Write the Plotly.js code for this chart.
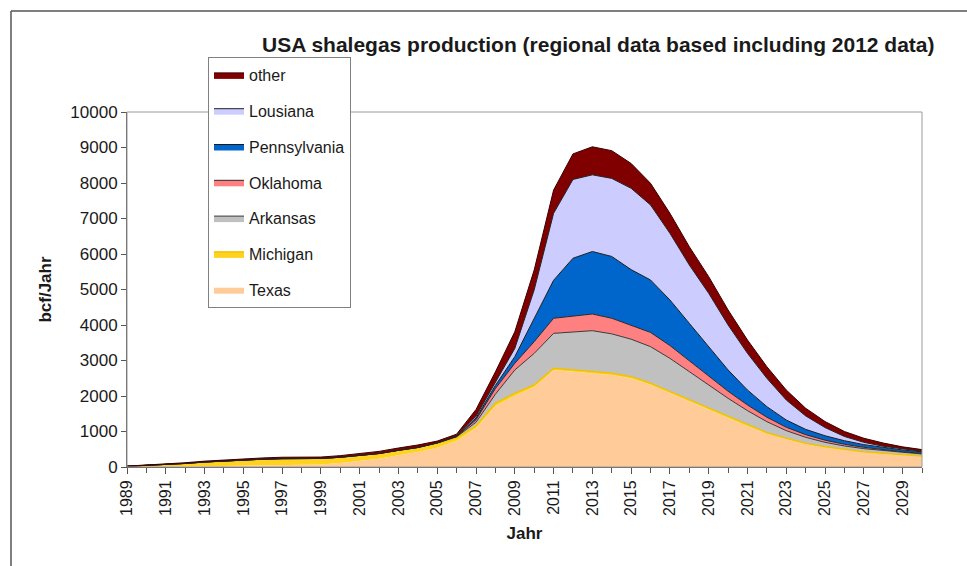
<!DOCTYPE html>
<html>
<head>
<meta charset="utf-8">
<script src="https://cdn.plot.ly/plotly-3.0.1.min.js"></script>
<style>html,body{margin:0;padding:0;background:#fff;}#chart{width:967px;height:566px;}</style>
</head>
<body>
<div id="chart"></div>
<script>
const years = [1989,1990,1991,1992,1993,1994,1995,1996,1997,1998,1999,2000,2001,2002,2003,2004,2005,2006,2007,2008,2009,2010,2011,2012,2013,2014,2015,2016,2017,2018,2019,2020,2021,2022,2023,2024,2025,2026,2027,2028,2029,2030];
const tickYears = [1989,1991,1993,1995,1997,1999,2001,2003,2005,2007,2009,2011,2013,2015,2017,2019,2021,2023,2025,2027,2029];

const texas = [0,0,5,10,20,30,40,50,60,65,70,110,165,230,330,420,545,730,1100,1720,2010,2250,2730,2690,2640,2590,2500,2320,2085,1850,1617,1384,1151,937,780,641,549,476,412,367,324,296];
const michigan = [20,40,60,90,120,140,160,170,175,175,170,165,160,150,140,130,120,90,60,70,65,60,50,50,50,50,45,40,37,37,36,34,32,30,28,26,24,22,20,18,16,14];
const arkansas = [0,0,0,0,0,0,0,0,0,0,0,0,0,0,0,0,10,30,100,260,658,890,985,1070,1150,1110,1055,1030,939,799,657,516,404,310,216,169,122,94,85,75,64,56];
const oklahoma = [0,0,0,0,0,0,0,0,0,0,0,0,0,0,0,0,5,10,70,160,187,330,425,430,470,440,400,400,360,300,250,200,160,125,95,75,60,48,38,30,25,20];
const pennsylvania = [0,0,0,0,0,0,0,0,0,0,0,0,0,0,0,0,0,5,50,90,188,670,1070,1640,1760,1740,1560,1478,1284,1061,830,599,422,298,205,149,125,100,75,60,51,39];
const lousiana = [0,0,0,0,0,0,0,0,0,0,0,0,0,0,0,0,0,10,50,80,232,790,1885,2220,2160,2200,2290,2113,1878,1643,1502,1267,1033,798,563,380,230,120,65,35,22,15];
const other = [5,10,15,20,25,30,35,35,40,40,40,45,60,60,65,70,50,50,190,300,470,560,655,720,790,780,700,610,563,516,470,423,375,328,282,215,170,140,115,90,65,50];

const seriesNames = ['Texas','Michigan','Arkansas','Oklahoma','Pennsylvania','Lousiana','other'];
const seriesData = [texas, michigan, arkansas, oklahoma, pennsylvania, lousiana, other];
const fillColors = ['#FFCC99','#FFD21F','#C0C0C0','#FF8080','#0066CC','#CCCCFF','#800000'];
const lineColors = ['#FFCC99','#F2C200','#3a3a3a','#2a2a2a','#1a1a1a','#222222','#3a0000'];
const lineWidths = [0,1.5,1,1,1,1,1];

const FONT = 'Arial, "Liberation Sans", sans-serif';

const traces = seriesNames.map((n,i)=>({
  type:'scatter', mode:'lines', name:n, x:years, y:seriesData[i],
  stackgroup:'one', fill:'tonexty', fillcolor:fillColors[i],
  line:{color:lineColors[i], width:lineWidths[i]},
  legendgroup:'g'+i, legendrank:100-i, hoverinfo:'skip'
}));

const layout = {
  width:967, height:566,
  margin:{l:127, r:45, t:112, b:99},
  paper_bgcolor:'#fff', plot_bgcolor:'#fff',
  font:{family:FONT, size:16, color:'#1a1a1a'},
  title:{text:'<b>USA shalegas production (regional data based including 2012 data)</b>',
    font:{family:FONT, size:21, color:'#1a1a1a'},
    x:262/967, xanchor:'left', xref:'container', y:1-45/566, yanchor:'middle', yref:'container'},
  showlegend:true,
  legend:{x:(208-127)/795, y:(467-57)/355, xanchor:'left', yanchor:'top',
    bgcolor:'#fff', bordercolor:'#808080', borderwidth:1,
    traceorder:'grouped', tracegroupgap:12,
    font:{family:FONT, size:16, color:'#1a1a1a'}, itemwidth:30},
  xaxis:{range:[1989,2030], tickmode:'array', tickvals:tickYears, ticktext:tickYears.map(String),
    tickangle:-90, ticks:'outside', ticklen:6, tickcolor:'#555', showgrid:false, zeroline:false,
    showline:true, linecolor:'#555', linewidth:1,
    minor:{tickmode:'linear', dtick:1, tick0:1989, ticks:'outside', ticklen:5, tickcolor:'#555', showgrid:false},
    tickfont:{family:FONT, size:16, color:'#1a1a1a'},
    title:{text:'<b>Jahr</b>', font:{family:FONT, size:17, color:'#1a1a1a'}, standoff:12}},
  yaxis:{range:[0,10000], dtick:1000, tick0:0, tickformat:'d', ticks:'outside', ticklen:5, tickcolor:'#555',
    showgrid:false, zeroline:false, showline:true, linecolor:'#555', linewidth:1,
    tickfont:{family:FONT, size:17, color:'#1a1a1a'},
    title:{text:'<b>bcf/Jahr</b>', font:{family:FONT, size:17, color:'#1a1a1a'}, standoff:14}},
  shapes:[
    {type:'rect', xref:'paper', yref:'paper', x0:0, x1:1, y0:0, y1:1, line:{color:'#9a9a9a', width:1}, layer:'above'},
    {type:'line', xref:'paper', yref:'paper', x0:(11-127)/795, x1:(11-127)/795, y0:(467-566)/355, y1:(467-11)/355, line:{color:'#555', width:1.5}},
    {type:'line', xref:'paper', yref:'paper', x0:(11-127)/795, x1:(967-127)/795, y0:(467-11)/355, y1:(467-11)/355, line:{color:'#555', width:1.5}}
  ]
};

Plotly.newPlot('chart', traces, layout, {staticPlot:true, displayModeBar:false});
</script>
</body>
</html>
